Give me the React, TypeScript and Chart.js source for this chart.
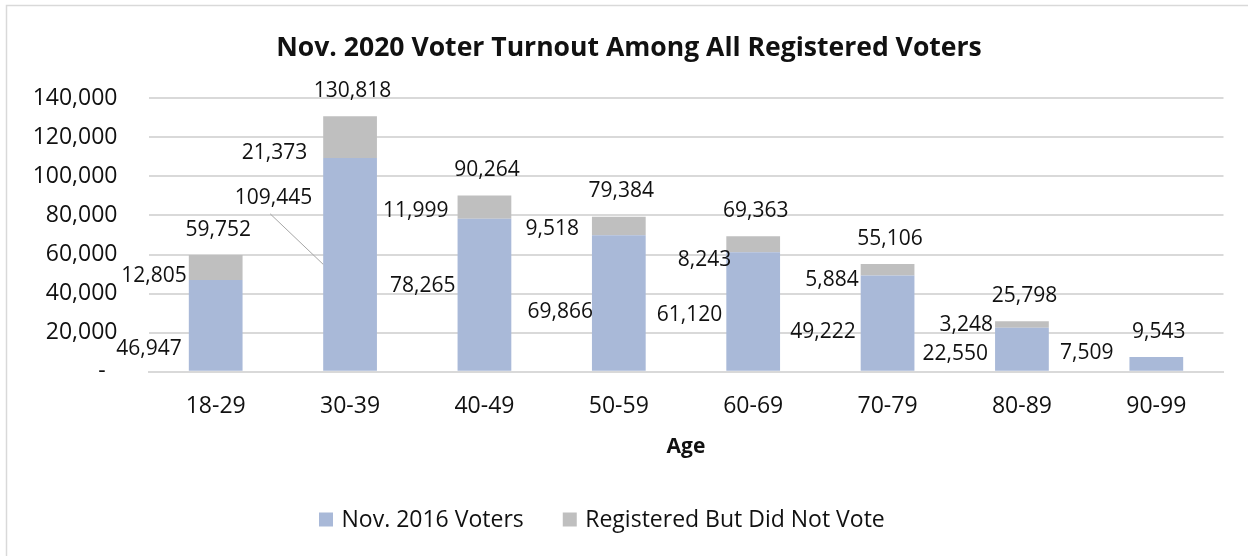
import React, { useEffect, useRef } from 'react';
import { Chart, registerables } from 'chart.js';

Chart.register(...registerables);

// ---------------- data ----------------
const categories = ['18-29', '30-39', '40-49', '50-59', '60-69', '70-79', '80-89', '90-99'];
const voters2016 = [46947, 109445, 78265, 69866, 61120, 49222, 22550, 7509];
const didNotVote: (number | null)[] = [12805, 21373, 11999, 9518, 8243, 5884, 3248, null];
const totals = [59752, 130818, 90264, 79384, 69363, 55106, 25798, 9543];
const seriesNames = ['Nov. 2016 Voters', 'Registered But Did Not Vote'];
const chartTitle = 'Nov. 2020 Voter Turnout Among All Registered Voters';
const axisTitle = 'Age';
const yMin = 0;
const yMax = 140000;
const yStep = 20000;

// ---------------- styles / layout ----------------
const BLUE = '#a9b9d8';
const GREY = '#bfbfbf';
const TEXT = '#111111';
const GRID = '#d9d9d9';
const FONT = '"Open Sans", "Noto Sans", sans-serif';

// label placement (pixel nudges relative to the bar segments, as arranged in the original)
const baseLabelGap = [7, 11, 2, -1, 4, 5, 7, 16];
const baseLabelShift = [22, -68, -10, 8, 2, 7, 3, -12];
const topLabelGap = [2, 16, 9, 13, -5, 2, 2, 0];
const topLabelShift = [7, 14, 2, 2, 14, 9, -1, 0];
const leaderIndex = 1;

const fmt = (v: number) => v.toLocaleString('en-US');

const decorPlugin = {
  id: 'decor',
  beforeDraw(chart: any) {
    const ctx = chart.ctx;
    ctx.save();
    ctx.fillStyle = '#ffffff';
    ctx.fillRect(0, 0, chart.width, chart.height);
    ctx.strokeStyle = GRID;
    ctx.lineWidth = 1.5;
    ctx.beginPath();
    ctx.moveTo(6.5, chart.height + 2);
    ctx.lineTo(6.5, 5.5);
    ctx.lineTo(chart.width + 2, 5.5);
    ctx.stroke();
    ctx.restore();
  },
  afterDraw(chart: any) {
    const ctx = chart.ctx;
    ctx.save();
    // title (fitted to the original's width)
    ctx.font = `bold 28px ${FONT}`;
    const w = ctx.measureText(chartTitle).width;
    const size = (28 * 706) / w;
    ctx.font = `bold ${size}px ${FONT}`;
    ctx.fillStyle = TEXT;
    ctx.textAlign = 'center';
    ctx.textBaseline = 'alphabetic';
    ctx.fillText(chartTitle, 629, 55.5);

    // legend
    ctx.font = `23px ${FONT}`;
    ctx.textAlign = 'left';
    let x = 319;
    const colors = chart.data.datasets.map((d: any) => d.backgroundColor);
    chart.data.datasets.forEach((d: any, i: number) => {
      ctx.fillStyle = colors[i];
      ctx.fillRect(x, 512.5, 14, 14);
      ctx.fillStyle = TEXT;
      ctx.fillText(d.label, x + 22.5, 527);
      x += 22.5 + ctx.measureText(d.label).width + 39;
    });
    ctx.restore();
  },
  afterDatasetsDraw(chart: any) {
    const ctx = chart.ctx;
    const m0 = chart.getDatasetMeta(0);
    const m1 = chart.getDatasetMeta(1);
    ctx.save();
    ctx.font = `21px ${FONT}`;
    ctx.fillStyle = TEXT;
    ctx.textBaseline = 'alphabetic';
    const half = 7.5; // digit centre -> baseline
    categories.forEach((_, i) => {
      const b0: any = m0.data[i];
      const left = b0.x - b0.width / 2;
      const mid0 = (b0.y + b0.base) / 2;
      let top = b0.y;
      // bottom-series label
      ctx.textAlign = 'right';
      const x0 = left - baseLabelGap[i];
      const y0 = mid0 + baseLabelShift[i];
      ctx.fillText(fmt(voters2016[i]), x0, y0 + half);
      if (i === leaderIndex) {
        ctx.save();
        ctx.strokeStyle = '#a6a6a6';
        ctx.lineWidth = 1;
        ctx.beginPath();
        ctx.moveTo(x0 - 42, y0 + 17.5);
        ctx.lineTo(left, mid0);
        ctx.stroke();
        ctx.restore();
      }
      // top-series label
      const v1 = didNotVote[i];
      if (v1 != null) {
        const b1: any = m1.data[i];
        const mid1 = (b1.y + b1.base) / 2;
        top = Math.min(top, b1.y);
        ctx.fillText(fmt(v1), left - topLabelGap[i], mid1 + topLabelShift[i] + half);
      }
      // total label
      ctx.textAlign = 'center';
      ctx.fillText(fmt(totals[i]), b0.x + 2.5, top - 27 + half);
    });
    ctx.restore();
  },
};

export default function App() {
  const ref = useRef<HTMLCanvasElement | null>(null);
  useEffect(() => {
    document.body.style.margin = '0';
    document.body.style.overflow = 'hidden';
    if (!ref.current) return;
    const chart = new Chart(ref.current, {
      type: 'bar',
      data: {
        labels: categories,
        datasets: [
          {
            label: seriesNames[0],
            data: voters2016,
            backgroundColor: BLUE,
            borderWidth: 0,
            barPercentage: 0.4,
            categoryPercentage: 1,
          },
          {
            label: seriesNames[1],
            data: didNotVote,
            backgroundColor: GREY,
            borderWidth: 0,
            barPercentage: 0.4,
            categoryPercentage: 1,
          },
        ],
      },
      options: {
        responsive: false,
        devicePixelRatio: 1,
        animation: false,
        events: [],
        layout: { padding: { left: 0, right: 24.5, top: 98.3, bottom: 0 } },
        plugins: {
          legend: { display: false },
          title: { display: false },
          tooltip: { enabled: false },
        },
        scales: {
          x: {
            stacked: true,
            offset: true,
            grid: { display: false, drawTicks: false },
            border: { display: true, color: GRID, width: 2 },
            ticks: {
              font: { family: FONT, size: 23 },
              color: TEXT,
              padding: 21,
              maxRotation: 0,
              autoSkip: false,
            },
            title: {
              display: true,
              text: axisTitle,
              font: { family: FONT, size: 21, weight: 'bold' },
              color: TEXT,
              padding: { top: 0, bottom: 96 },
            },
            afterFit: (s: any) => {
              s.height = 184.3;
            },
          },
          y: {
            stacked: true,
            min: yMin,
            max: yMax,
            grid: { color: GRID, lineWidth: 2, drawTicks: false },
            border: { display: false },
            ticks: {
              stepSize: yStep,
              font: { family: FONT, size: 23 },
              color: TEXT,
              padding: 31,
              callback: (v: any) => (Number(v) === 0 ? '-  ' : fmt(Number(v))),
            },
            afterFit: (s: any) => {
              s.width = 148.5;
            },
          },
        },
      },
      plugins: [decorPlugin],
    });
    return () => chart.destroy();
  }, []);
  return (
    <div style={{ width: 1248, height: 556 }}>
      <canvas ref={ref} width={1248} height={556} style={{ display: 'block' }} />
    </div>
  );
}
